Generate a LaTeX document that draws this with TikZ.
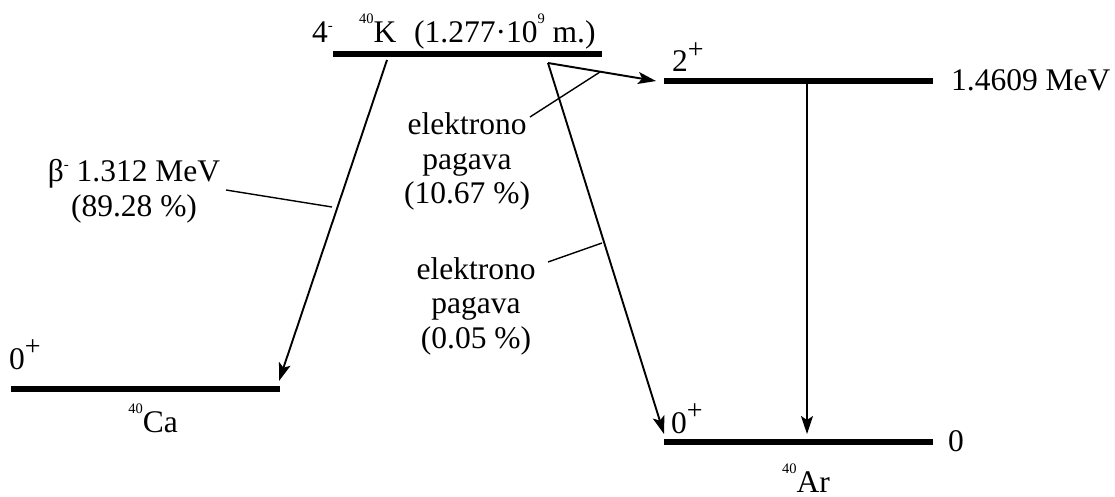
\documentclass[tikz,border=0pt]{standalone}
\usepackage{fontspec}
\setmainfont{Liberation Serif}
\usetikzlibrary{arrows.meta}
\tikzset{
  level/.style={line width=6pt},
  trans/.style={line width=1.9pt,-{Stealth[length=18pt,width=12pt,inset=4pt]}},
  leader/.style={line width=1.4pt},
  lbl/.style={inner sep=0pt,font=\fontsize{31.5}{34.5}\selectfont},
}
\newcommand{\multi}[1]{\setlength{\tabcolsep}{0pt}\begin{tabular}[t]{c}#1\end{tabular}}
\newcommand{\ssup}[1]{\raisebox{19pt}{\fontsize{14.5}{14.5}\selectfont #1}}
\newcommand{\sminus}{\raisebox{12pt}{\fontsize{15}{15}\selectfont -}}
\newcommand{\splus}{\raisebox{13.5pt}{\fontsize{28}{28}\selectfont +}}
\begin{document}
\begin{tikzpicture}[x=1pt,y=-1pt]
\useasboundingbox (0,0) rectangle (1115,497);
% levels
\draw[level] (333,54.5) -- (602,54.5);
\draw[level] (664,81) -- (933,81);
\draw[level] (664,442) -- (933,442);
\draw[level] (11,389) -- (280,389);
% endpoints
\coordinate (bS) at (387,60);
\coordinate (bE) at (279,381);
\coordinate (eS) at (548,63);
\coordinate (e1E) at (656,81);
\coordinate (e2E) at (664,434);
\coordinate (gS) at (807,84);
\coordinate (gE) at (807,434);
\draw[trans] (bS) -- (bE);
\draw[trans] (eS) -- (e1E);
\draw[trans] (eS) -- (e2E);
\draw[trans] (gS) -- (gE);
% labels
\node[lbl,anchor=base west] (spinK) at (312,43) {4\sminus};
\node[lbl,anchor=base west] (K) at (359,43) {\ssup{40}K};
\node[lbl,anchor=base west] (half) at (414,43) {(1.277·10\ssup{9} m.)};
\node[lbl,anchor=base west] (spin2) at (672,72) {2\splus};
\node[lbl,anchor=base west] (E2) at (951,91) {1.4609 MeV};
\node[lbl,anchor=base west] (spin0Ar) at (671,433) {0\splus};
\node[lbl,anchor=base west] (E0) at (948,451) {0};
\node[lbl,anchor=base] (Ar) at (806,492) {\ssup{40}Ar};
\node[lbl,anchor=base west] (spin0Ca) at (9,369) {0\splus};
\node[lbl,anchor=base] (Ca) at (153,432) {\ssup{40}Ca};
\node[lbl,anchor=base] (beta) at (134,182) {\multi{β\sminus{} 1.312 MeV\\(89.28~\%)}};
\node[lbl,anchor=base] (ec1) at (467,135) {\multi{elektrono\\pagava\\(10.67~\%)}};
\node[lbl,anchor=base] (ec2) at (476,279) {\multi{elektrono\\pagava\\(0.05~\%)}};
% leaders
\coordinate (l1a) at (226,190);
\coordinate (l1b) at (332,207);
\coordinate (l2a) at (530,117);
\coordinate (l2b) at (600,72);
\coordinate (l3a) at (548,262);
\coordinate (l3b) at (602,243);
\draw[leader] (l1a) -- (l1b);
\draw[leader] (l2a) -- (l2b);
\draw[leader] (l3a) -- (l3b);
\end{tikzpicture}
\end{document}
